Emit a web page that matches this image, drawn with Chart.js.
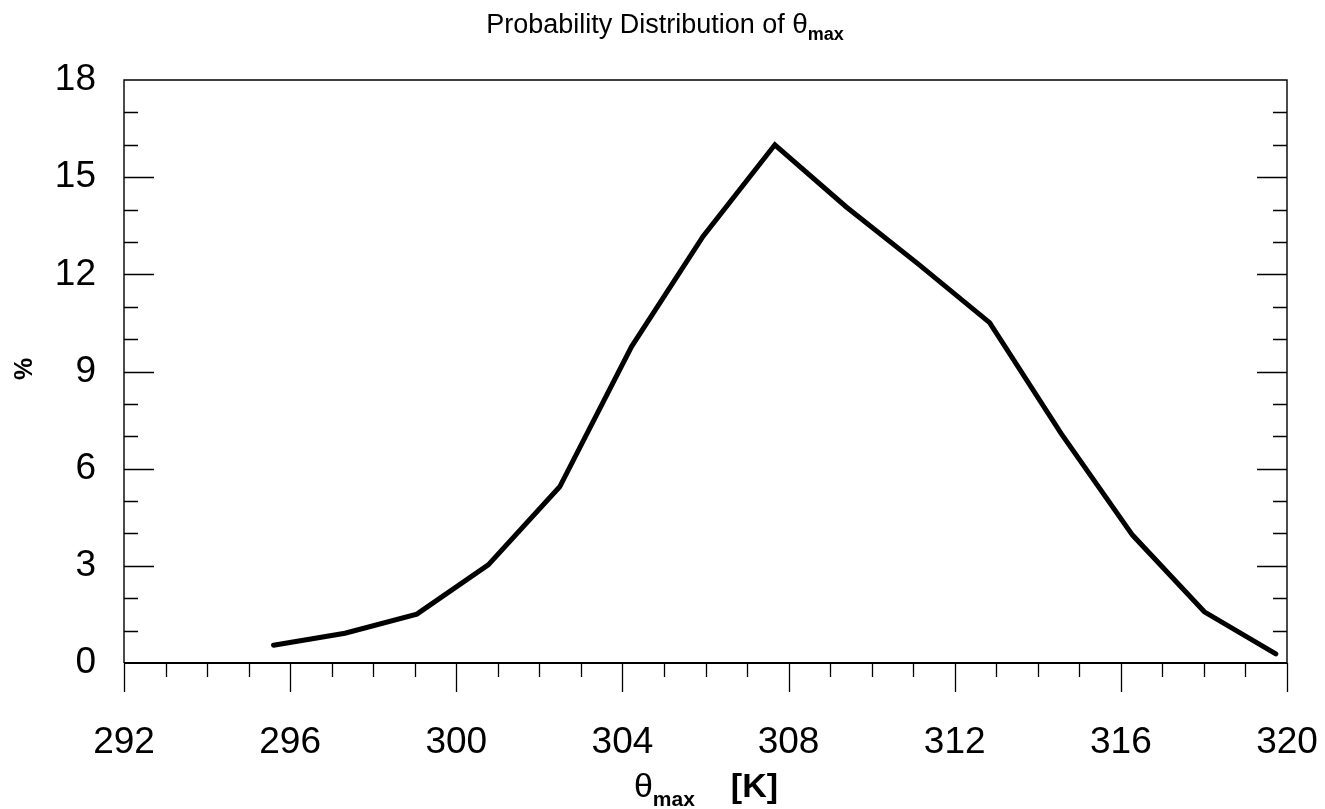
<!DOCTYPE html>
<html>
<head>
<meta charset="utf-8">
<script src="https://cdn.jsdelivr.net/npm/chart.js@4.4.1/dist/chart.umd.min.js"></script>
<style>
  html, body { margin: 0; padding: 0; background: #fff; }
  #wrap { width: 1325px; height: 809px; }
</style>
</head>
<body>
<div id="wrap"><canvas id="chart" width="1325" height="809"></canvas></div>
<script>
// -------------------- DATA --------------------
const thetaMax = [295.60, 297.32, 299.05, 300.77, 302.49, 304.22, 305.94, 307.67, 309.39, 311.11, 312.84, 314.56, 316.28, 318.01, 319.73];
const percent  = [0.55, 0.92, 1.51, 3.03, 5.44, 9.77, 13.17, 16.0, 14.08, 12.33, 10.51, 7.09, 3.95, 1.58, 0.28];

const xTicks = [292, 296, 300, 304, 308, 312, 316, 320];
const yTicks = [0, 3, 6, 9, 12, 15, 18];

const FONT = "'Liberation Sans', Arial, Helvetica, sans-serif";

// -------------------- FRAME + TICK MARKS --------------------
const framePlugin = {
    id: "frame",
    afterDraw(chart){
        const ctx = chart.ctx;
        const a = chart.chartArea;
        const xs = chart.scales.x, ys = chart.scales.y;
        ctx.save();
        ctx.strokeStyle = "#000";
        ctx.lineCap = "butt";

        // frame
        ctx.lineWidth = 1.4;
        ctx.beginPath();
        ctx.moveTo(a.left, a.bottom); ctx.lineTo(a.left, a.top);
        ctx.lineTo(a.right, a.top); ctx.lineTo(a.right, a.bottom);
        ctx.stroke();
        ctx.lineWidth = 2.2;
        ctx.beginPath();
        ctx.moveTo(a.left, a.bottom); ctx.lineTo(a.right, a.bottom);
        ctx.stroke();

        // y ticks (inward, both sides)
        ctx.lineWidth = 1.3;
        for(let v = 1; v < 18; v++){
            const y = Math.round(ys.getPixelForValue(v)) + 0.5;
            const len = v % 3 === 0 ? 30 : 14;
            ctx.beginPath();
            ctx.moveTo(a.left, y); ctx.lineTo(a.left + len, y);
            ctx.moveTo(a.right, y); ctx.lineTo(a.right - len, y);
            ctx.stroke();
        }

        // x ticks (outward, below)
        for(let v = 292; v <= 320; v++){
            const x = Math.round(xs.getPixelForValue(v)) + 0.5;
            const len = v % 4 === 0 ? 29 : 14;
            ctx.beginPath();
            ctx.moveTo(x, a.bottom); ctx.lineTo(x, a.bottom + len);
            ctx.stroke();
        }
        ctx.restore();
    }
};

// -------------------- TITLES (with subscripts) --------------------
function drawRuns(ctx, runs, cx){
    let total = 0;
    runs.forEach(r => { ctx.font = r.font; r.w = ctx.measureText(r.text).width; total += r.w + (r.gap || 0); });
    let x = cx - total / 2;
    runs.forEach(r => {
        ctx.font = r.font;
        ctx.fillText(r.text, x, r.y);
        x += r.w + (r.gap || 0);
    });
}

const titlesPlugin = {
    id: "titles",
    afterDraw(chart){
        const ctx = chart.ctx;
        ctx.save();
        ctx.fillStyle = "#000";
        ctx.textBaseline = "alphabetic";
        ctx.textAlign = "left";

        drawRuns(ctx, [
            {text: "Probability Distribution of ", font: `27px ${FONT}`, y: 33},
            {text: "\u03B8", font: `28px ${FONT}`, y: 33},
            {text: "max", font: `bold 18px ${FONT}`, y: 40}
        ], 665);

        drawRuns(ctx, [
            {text: "\u03B8", font: `34px ${FONT}`, y: 797},
            {text: "max", font: `bold 21px ${FONT}`, y: 806, gap: 36},
            {text: "[K]", font: `bold 34px ${FONT}`, y: 797}
        ], 706);

        ctx.translate(32, 369);
        ctx.rotate(-Math.PI / 2);
        ctx.textAlign = "center";
        ctx.font = `bold 25px ${FONT}`;
        ctx.fillText("%", 0, 0);
        ctx.restore();
    }
};

// -------------------- CHART --------------------
new Chart(document.getElementById("chart"), {
    type: "line",
    data: {
        datasets: [{
            data: thetaMax.map((t, i) => ({x: t, y: percent[i]})),
            borderColor: "#000",
            borderWidth: 5,
            borderCapStyle: "round",
            borderJoinStyle: "miter",
            pointRadius: 0,
            fill: false,
            tension: 0
        }]
    },
    options: {
        responsive: false,
        animation: false,
        layout: { padding: { top: 80, right: 38, left: 0, bottom: 0 } },
        plugins: { legend: { display: false }, tooltip: { enabled: false }, title: { display: false } },
        scales: {
            x: {
                type: "linear", min: 292, max: 320,
                afterFit: s => { s.height = 146; s.paddingLeft = 0; s.paddingRight = 0; },
                afterBuildTicks: s => { s.ticks = xTicks.map(v => ({value: v})); },
                grid: { display: false, drawTicks: false },
                border: { display: false },
                ticks: { color: "#000", padding: 58, maxRotation: 0, font: { family: FONT, size: 37 } }
            },
            y: {
                type: "linear", min: 0, max: 18,
                afterFit: s => { s.width = 124; s.paddingTop = 0; s.paddingBottom = 0; },
                afterBuildTicks: s => { s.ticks = yTicks.map(v => ({value: v})); },
                grid: { display: false, drawTicks: false },
                border: { display: false },
                ticks: { color: "#000", padding: 28, font: { family: FONT, size: 37 } }
            }
        }
    },
    plugins: [framePlugin, titlesPlugin]
});
</script>
</body>
</html>
